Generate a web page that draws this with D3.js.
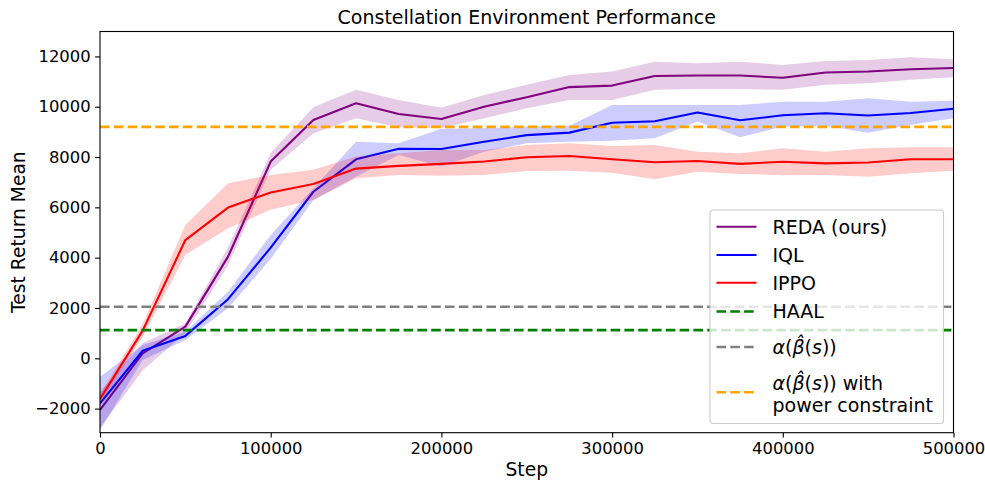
<!DOCTYPE html>
<html>
<head>
<meta charset="utf-8">
<script src="https://cdn.jsdelivr.net/npm/d3@7"></script>
<style>
  html, body { margin: 0; padding: 0; background: #fff; }
  svg { display: block; font-family: "DejaVu Sans", sans-serif; }
</style>
</head>
<body>
<svg id="chart" width="985" height="483"></svg>
<script>
// Training steps at which each method was evaluated
const steps = [0, 25000, 50000, 75000, 100000, 125000, 150000, 175000, 200000, 225000,
  250000, 275000, 300000, 325000, 350000, 375000, 400000, 425000, 450000, 475000, 500000];

// REDA (ours): mean test return and shaded band
const redaMean = [-2050, 200, 1260, 4040, 7820, 9470, 10140, 9710, 9510, 10000,
  10380, 10780, 10840, 11220, 11240, 11240, 11150, 11360, 11400, 11490, 11540];
const redaLow = [-2770, -470, 1000, 3700, 7490, 8950, 9540, 9180, 9150, 9540,
  9940, 10270, 10270, 10670, 10700, 10700, 10670, 10870, 10930, 11070, 11170];
const redaHigh = [-1330, 600, 1380, 4400, 8160, 9980, 10670, 10270, 9960, 10470,
  10870, 11260, 11400, 11790, 11730, 11790, 11660, 11820, 11860, 11970, 11890];

// IQL
const iqlMean = [-1790, 300, 890, 2350, 4400, 6620, 7910, 8330, 8320, 8610,
  8870, 8970, 9360, 9420, 9770, 9460, 9660, 9740, 9650, 9750, 9920];
const iqlLow = [-2850, -70, 730, 1990, 3950, 6290, 7220, 8080, 7620, 8210,
  8550, 8610, 8650, 8750, 9410, 8790, 9210, 9240, 8970, 9280, 9540];
const iqlHigh = [-730, 530, 1060, 2650, 4900, 6760, 8610, 8550, 9120, 9150,
  9210, 9240, 10070, 10070, 10070, 10070, 10200, 10200, 10340, 10200, 10240];

// IPPO
const ippoMean = [-1620, 1100, 4700, 5990, 6590, 6930, 7540, 7650, 7730, 7820,
  7990, 8040, 7910, 7790, 7840, 7730, 7810, 7750, 7780, 7910, 7910];
const ippoLow = [-1800, 850, 4110, 5170, 5900, 6290, 7160, 7290, 7260, 7290,
  7450, 7460, 7380, 7120, 7420, 7330, 7280, 7290, 7220, 7360, 7460];
const ippoHigh = [-1440, 1350, 5300, 6960, 7290, 7490, 8020, 8150, 8280, 8280,
  8480, 8550, 8440, 8480, 8210, 8150, 8350, 8210, 8350, 8390, 8390];

// Constant baselines
const haalLevel = 1120;
const alphaLevel = 2050;
const alphaPowerLevel = 9200;

// Axis ticks
const xTicks = [0, 100000, 200000, 300000, 400000, 500000];
const yTicks = [-2000, 0, 2000, 4000, 6000, 8000, 10000, 12000];

const svg = d3.select("#chart");
const plotLeft = 100, plotRight = 953.5, plotTop = 31.5, plotBottom = 432.7;

const x = d3.scaleLinear().domain([0, 500000]).range([plotLeft, plotRight]);
const y = d3.scaleLinear().domain([-2957, 12990]).range([plotBottom, plotTop]);

const plot = svg.append("g");
plot.append("clipPath").attr("id", "clip")
  .append("rect").attr("x", plotLeft).attr("y", plotTop)
  .attr("width", plotRight - plotLeft).attr("height", plotBottom - plotTop);
const inner = plot.append("g").attr("clip-path", "url(#clip)");

const series = [
  { mean: redaMean, low: redaLow, high: redaHigh, color: "#800080" },
  { mean: iqlMean, low: iqlLow, high: iqlHigh, color: "#0000ff" },
  { mean: ippoMean, low: ippoLow, high: ippoHigh, color: "#ff0000" }
];

const area = d3.area()
  .x(d => x(d.s)).y0(d => y(d.lo)).y1(d => y(d.hi));
const line = d3.line().x(d => x(d.s)).y(d => y(d.v));

series.forEach(sr => {
  const rows = steps.map((s, i) => ({ s, v: sr.mean[i], lo: sr.low[i], hi: sr.high[i] }));
  inner.append("path").attr("d", area(rows))
    .attr("fill", sr.color).attr("fill-opacity", 0.2).attr("stroke", "none");
  inner.append("path").attr("d", line(rows))
    .attr("fill", "none").attr("stroke", sr.color).attr("stroke-width", 2.1)
    .attr("stroke-linejoin", "round");
});

const hlines = [
  { v: haalLevel, color: "#008000" },
  { v: alphaLevel, color: "#808080" },
  { v: alphaPowerLevel, color: "#ffa500" }
];
hlines.forEach(h => {
  inner.append("line")
    .attr("x1", plotLeft).attr("x2", plotRight)
    .attr("y1", y(h.v)).attr("y2", y(h.v))
    .attr("stroke", h.color).attr("stroke-width", 2.6)
    .attr("stroke-dasharray", "9.6,4.2");
});

// Axes
const xAxis = d3.axisBottom(x).tickValues(xTicks).tickFormat(d3.format("d"))
  .tickSize(4.9).tickPadding(4.5);
const yAxis = d3.axisLeft(y).tickValues(yTicks).tickFormat(d3.format("d"))
  .tickSize(4.9).tickPadding(4.5);

const gx = svg.append("g").attr("transform", `translate(0,${plotBottom})`).call(xAxis);
const gy = svg.append("g").attr("transform", `translate(${plotLeft},0)`).call(yAxis);
[gx, gy].forEach(g => {
  g.select(".domain").remove();
  g.selectAll(".tick line").attr("stroke", "#000").attr("stroke-width", 1.1);
  g.selectAll(".tick text").attr("fill", "#000")
    .style("font-size", "16.4px").style("font-family", "DejaVu Sans");
});

// Frame
svg.append("rect").attr("x", plotLeft).attr("y", plotTop)
  .attr("width", plotRight - plotLeft).attr("height", plotBottom - plotTop)
  .attr("fill", "none").attr("stroke", "#000").attr("stroke-width", 1.1);

// Titles
svg.append("text").attr("x", (plotLeft + plotRight) / 2).attr("y", 24)
  .attr("text-anchor", "middle").style("font-size", "19px")
  .text("Constellation Environment Performance");
svg.append("text").attr("x", (plotLeft + plotRight) / 2).attr("y", 476)
  .attr("text-anchor", "middle").style("font-size", "18.7px").text("Step");
svg.append("text")
  .attr("transform", `translate(25,${(plotTop + plotBottom) / 2}) rotate(-90)`)
  .attr("text-anchor", "middle").style("font-size", "18.7px").text("Test Return Mean");

// Legend
const lg = svg.append("g");
lg.append("rect").attr("x", 710).attr("y", 210).attr("width", 233.5).attr("height", 213.5)
  .attr("rx", 3.5).attr("fill", "#fff").attr("fill-opacity", 0.8)
  .attr("stroke", "#cccccc").attr("stroke-width", 1.1);

const alphaLabel = [
  { t: "α", it: true }, { t: "(", it: false }, { t: "β\u0302", it: true },
  { t: "(", it: false }, { t: "s", it: true }, { t: "))", it: false }
];
const entries = [
  { color: "#800080", dash: false, lineY: 226.7, lines: [[{ t: "REDA (ours)" }]] },
  { color: "#0000ff", dash: false, lineY: 255, lines: [[{ t: "IQL" }]] },
  { color: "#ff0000", dash: false, lineY: 282.8, lines: [[{ t: "IPPO" }]] },
  { color: "#008000", dash: true, lineY: 311.5, lines: [[{ t: "HAAL" }]] },
  { color: "#808080", dash: true, lineY: 347, lines: [alphaLabel] },
  { color: "#ffa500", dash: true, lineY: 392.3,
    lines: [alphaLabel.concat([{ t: " with", it: false }]), [{ t: "power constraint" }]],
    textY: [383, 405.5] }
];
entries.forEach(e => {
  lg.append("line").attr("x1", 716.5).attr("x2", 756.5)
    .attr("y1", e.lineY).attr("y2", e.lineY)
    .attr("stroke", e.color).attr("stroke-width", e.dash ? 2.6 : 2.1)
    .attr("stroke-dasharray", e.dash ? "9.6,4.2" : null);
  e.lines.forEach((segs, li) => {
    const cy = e.textY ? e.textY[li] : e.lineY;
    const t = lg.append("text").attr("x", 772.5).attr("y", cy + 6.8)
      .style("font-size", "19px");
    segs.forEach(sg => {
      t.append("tspan").style("font-style", sg.it ? "italic" : "normal").text(sg.t);
    });
  });
});
</script>
</body>
</html>
